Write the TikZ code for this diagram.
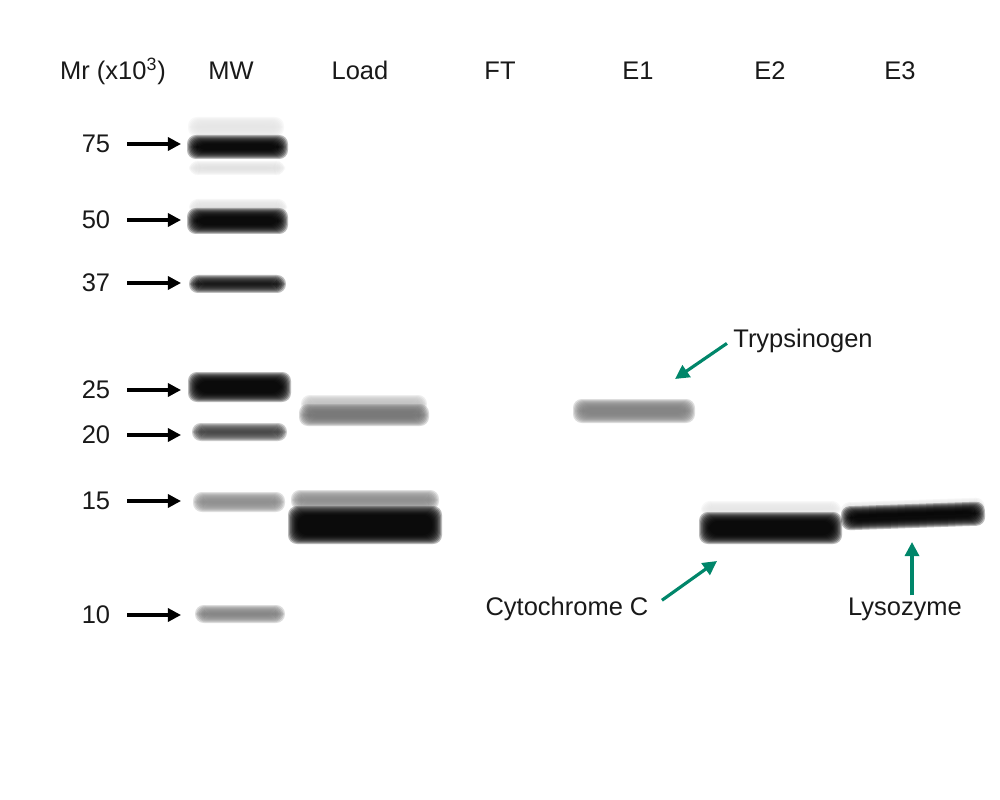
\documentclass[tikz,border=0pt]{standalone}
\usepackage{fontspec}
\setmainfont{Liberation Sans}
\usetikzlibrary{arrows.meta}

\definecolor{markgreen}{RGB}{0,134,106}

% blurred band: x1, x2, y centre, height, colour
\newcommand{\gelband}[5]{%
  \foreach \k in {0,...,9}{%
    \fill[#5, opacity=0.27, rounded corners=5pt]
      ({#1-5+1.1*\k}, {#3-#4/2-5+1.0*\k}) rectangle ({#2+5-1.1*\k}, {#3+#4/2+5-1.0*\k});
  }%
}

\tikzset{
  lbl/.style={font=\fontsize{14.5}{17}\selectfont, text=black!90, inner sep=1pt},
  mwarrow/.style={line width=1.8pt, -{Triangle[length=7.5pt,width=7.5pt]}},
  greenarrow/.style={markgreen, line width=1.8pt, -{Triangle[length=8pt,width=8pt]}},
}

\begin{document}
\begin{tikzpicture}[x=0.02cm, y=-0.02cm]
\useasboundingbox (0,0) rectangle (1000,800);

% lane headers
\node[lbl, anchor=base] (mr) at (113,80) {Mr (x10\textsuperscript{3})};
\node[lbl, anchor=base] (mw) at (231,80) {MW};
\node[lbl, anchor=base] (load) at (360,80) {Load};
\node[lbl, anchor=base] (ft) at (500,80) {FT};
\node[lbl, anchor=base] (e1) at (638,80) {E1};
\node[lbl, anchor=base] (e2) at (770,80) {E2};
\node[lbl, anchor=base] (e3) at (900,80) {E3};

% MW lane
\gelband{193}{279}{127}{10}{black!10}
\gelband{192}{283}{147}{14}{black}
\gelband{194}{280}{168}{4}{black!12}
\gelband{194}{282}{207}{6}{black!12}
\gelband{192}{283}{221}{16}{black}
\gelband{194}{281}{284}{8}{black!95}
\gelband{193}{286}{387}{20}{black}
\gelband{197}{282}{432}{8}{black!75}
\gelband{198}{280}{502}{10}{black!45}
\gelband{200}{280}{614}{8}{black!50}

% Load lane
\gelband{306}{422}{404}{8}{black!25}
\gelband{304}{424}{415}{12}{black!55}
\gelband{296}{434}{500}{10}{black!45}
\gelband{293}{437}{525}{28}{black}

% E1, E2, E3
\gelband{578}{690}{411}{14}{black!50}
\gelband{706}{836}{509}{6}{black!10}
\gelband{704}{837}{528}{22}{black}
\begin{scope}[rotate around={2:(912,515)}]
\gelband{846}{980}{508}{6}{black!12}
\gelband{846}{980}{516}{14}{black}
\end{scope}

% size markers
\foreach \m/\y in {75/144,50/220,37/283,25/390,20/435,15/501,10/615}{
  \node[lbl] (m\m) at (96,\y) {\m};
  \coordinate (t\m) at (181,\y);
  \draw[mwarrow, shorten <=8.5pt] (m\m) -- (t\m);
}

% protein labels
\node[lbl, anchor=base] (trp) at (803,347) {Trypsinogen};
\node[lbl, anchor=base] (cyt) at (567,615) {Cytochrome C};
\node[lbl, anchor=base] (lys) at (905,615) {Lysozyme};
\coordinate (trpTip) at (675,379);
\coordinate (cytTip) at (717,561);
\coordinate (lysTip) at (912,542);

\draw[greenarrow, shorten <=3pt] (trp.west) -- (trpTip);
\draw[greenarrow, shorten <=8pt] (cyt.east) -- (cytTip);
\draw[greenarrow] (lysTip |- lys.north) -- (lysTip);

\end{tikzpicture}
\end{document}
